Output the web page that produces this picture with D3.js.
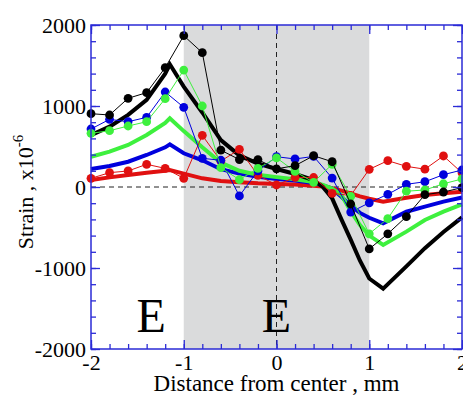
<!DOCTYPE html>
<html>
<head>
<meta charset="utf-8">
<script src="https://cdn.jsdelivr.net/npm/d3@7"></script>
<style>
  body { margin: 0; background: #fff; }
  text { font-family: "Liberation Serif", "Times New Roman", serif; }
</style>
</head>
<body>
<svg id="chart" width="463" height="396"></svg>
<script>
// measured points (step 0.2 mm)
var xPts = [-2, -1.8, -1.6, -1.4, -1.2, -1, -0.8, -0.6, -0.4, -0.2, 0, 0.2, 0.4, 0.6, 0.8, 1, 1.2, 1.4, 1.6, 1.8, 2];
var blackPts = [905, 889, 1095, 1165, 1473, 1868, 1658, 455, 338, 338, 225, 263, 386, 312, -210, -765, -578, -366, -95, -62, -8];
var bluePts  = [716, 835, 806, 860, 1173, 984, 354, 330, -110, 200, 374, 346, 378, 110, -310, -195, -90, 33, 65, 152, 210];
var greenPts = [663, 695, 753, 806, 1090, 1444, 1000, 238, 90, 230, 360, 192, 58, 280, -115, -578, -390, -52, -37, 40, 99];
var redPts   = [107, 177, 198, 280, 230, 107, 638, 320, 465, 144, 25, 119, 117, -78, -105, 218, 325, 255, 220, 383, 175];

// calculated curves
var curveX = [-2, -1.8, -1.6, -1.4, -1.2, -1.15, -1, -0.8, -0.6, -0.4, -0.2, 0, 0.2, 0.4, 0.5, 0.6, 0.7, 0.8, 0.9, 1, 1.15, 1.4, 1.6, 1.8, 2];
var blackCurve = [640, 745, 890, 1075, 1400, 1515, 1240, 920, 580, 390, 290, 222, 160, 85, 0, -140, -400, -650, -910, -1130, -1255, -980, -755, -555, -375];
var greenCurve = [374, 436, 519, 642, 790, 848, 690, 490, 300, 200, 150, 122, 95, 60, 25, -20, -100, -300, -470, -600, -716, -551, -407, -305, -214];
var blueCurve  = [222, 259, 312, 395, 490, 527, 416, 330, 220, 165, 127, 100, 80, 50, 20, -20, -120, -230, -320, -380, -449, -305, -243, -181, -130];
var redCurve   = [86, 119, 148, 177, 200, 210, 165, 107, 75, 58, 45, 38, 30, 15, 5, -15, -45, -80, -115, -145, -181, -132, -99, -78, -58];

var xTicks = [-2, -1, 0, 1, 2];
var yTicks = [-2000, -1000, 0, 1000, 2000];
var electrodes = [-1.35, 0];

var svg = d3.select("#chart");
var pL = 91, pR = 462, pT = 25, pB = 349;
var axisColor = "#2b2bd6";

var x = d3.scaleLinear().domain([-2, 2]).range([pL, pR]);
var y = d3.scaleLinear().domain([-2000, 2000]).range([pB, pT]);

// shaded zone
svg.append("rect")
  .attr("x", x(-1)).attr("y", pT)
  .attr("width", x(1) - x(-1)).attr("height", pB - pT)
  .attr("fill", "#dadbdc");

// dashed zero lines
svg.append("line")
  .attr("x1", pL).attr("x2", pR).attr("y1", y(0)).attr("y2", y(0))
  .attr("stroke", "#222").attr("stroke-dasharray", "5,4").attr("stroke-width", 1);
svg.append("line")
  .attr("x1", x(0)).attr("x2", x(0)).attr("y1", pT).attr("y2", pB)
  .attr("stroke", "#222").attr("stroke-dasharray", "5,4").attr("stroke-width", 1);

// E labels
svg.selectAll("text.el").data(electrodes).enter().append("text")
  .attr("class", "el")
  .attr("x", function (d) { return x(d); })
  .attr("y", 332)
  .attr("text-anchor", "middle")
  .attr("font-size", 48)
  .text("E");

var line = d3.line()
  .x(function (d) { return x(d[0]); })
  .y(function (d) { return y(d[1]); });

function zip(xs, ys) { return xs.map(function (v, i) { return [v, ys[i]]; }); }

var curves = [
  { vals: redCurve, color: "#e01010", w: 4 },
  { vals: blueCurve, color: "#0000dd", w: 4 },
  { vals: greenCurve, color: "#3ef03e", w: 4 },
  { vals: blackCurve, color: "#000", w: 4 }
];
var series = [
  { vals: redPts, color: "#e01010" },
  { vals: bluePts, color: "#0000dd" },
  { vals: greenPts, color: "#3ef03e" },
  { vals: blackPts, color: "#000" }
];

var g = svg.append("g");

curves.forEach(function (c) {
  g.append("path")
    .attr("d", line(zip(curveX, c.vals)))
    .attr("fill", "none")
    .attr("stroke", c.color)
    .attr("stroke-width", c.w)
    .attr("stroke-linejoin", "miter");
});

series.forEach(function (s) {
  var pts = zip(xPts, s.vals);
  g.append("path")
    .attr("d", line(pts))
    .attr("fill", "none")
    .attr("stroke", s.color)
    .attr("stroke-width", 1);
  g.selectAll(null).data(pts).enter().append("circle")
    .attr("cx", function (d) { return x(d[0]); })
    .attr("cy", function (d) { return y(d[1]); })
    .attr("r", 4.4)
    .attr("fill", s.color);
});

// axes, ticks inward on all sides
function addAxis(axisFn, scale, transform, major, minor, pad) {
  var a1 = svg.append("g").attr("transform", transform)
    .call(axisFn(scale).tickValues(minor).tickSize(-5).tickFormat(""));
  var a2 = svg.append("g").attr("transform", transform)
    .call(axisFn(scale).tickValues(major).tickSize(-9).tickPadding(pad || 0)
      .tickFormat(pad ? function (d) { return d < 0 ? "-" + Math.abs(d) : d; } : ""));
  [a1, a2].forEach(function (a) {
    a.select(".domain").remove();
    a.attr("font-size", 22).attr("font-family", "Liberation Serif, Times New Roman, serif");
    a.selectAll("line").attr("stroke", axisColor).attr("stroke-width", 1.3);
    a.selectAll("text").attr("fill", "#000");
  });
  return a2;
}

var xMinor = d3.range(-2, 2.001, 0.2).map(function (v) { return +v.toFixed(1); });
var yMinor = d3.range(-2000, 2001, 200);

addAxis(d3.axisBottom, x, "translate(0," + pB + ")", xTicks, xMinor, 5);
addAxis(d3.axisTop, x, "translate(0," + pT + ")", xTicks, xMinor, 0);
addAxis(d3.axisLeft, y, "translate(" + pL + ",0)", yTicks, yMinor, 5);
addAxis(d3.axisRight, y, "translate(" + pR + ",0)", yTicks, yMinor, 0);

svg.append("rect")
  .attr("x", pL).attr("y", pT)
  .attr("width", pR - pL).attr("height", pB - pT)
  .attr("fill", "none").attr("stroke", axisColor).attr("stroke-width", 1.5);

// axis titles
svg.append("text")
  .attr("x", (pL + pR) / 2).attr("y", 391)
  .attr("text-anchor", "middle").attr("font-size", 23)
  .text("Distance from center , mm");

var yt = svg.append("text")
  .attr("transform", "translate(33,192) rotate(-90)")
  .attr("text-anchor", "middle").attr("font-size", 22);
yt.append("tspan").text("Strain , x10");
yt.append("tspan").attr("dy", -10).attr("font-size", 15).text("-6");
</script>
</body>
</html>
